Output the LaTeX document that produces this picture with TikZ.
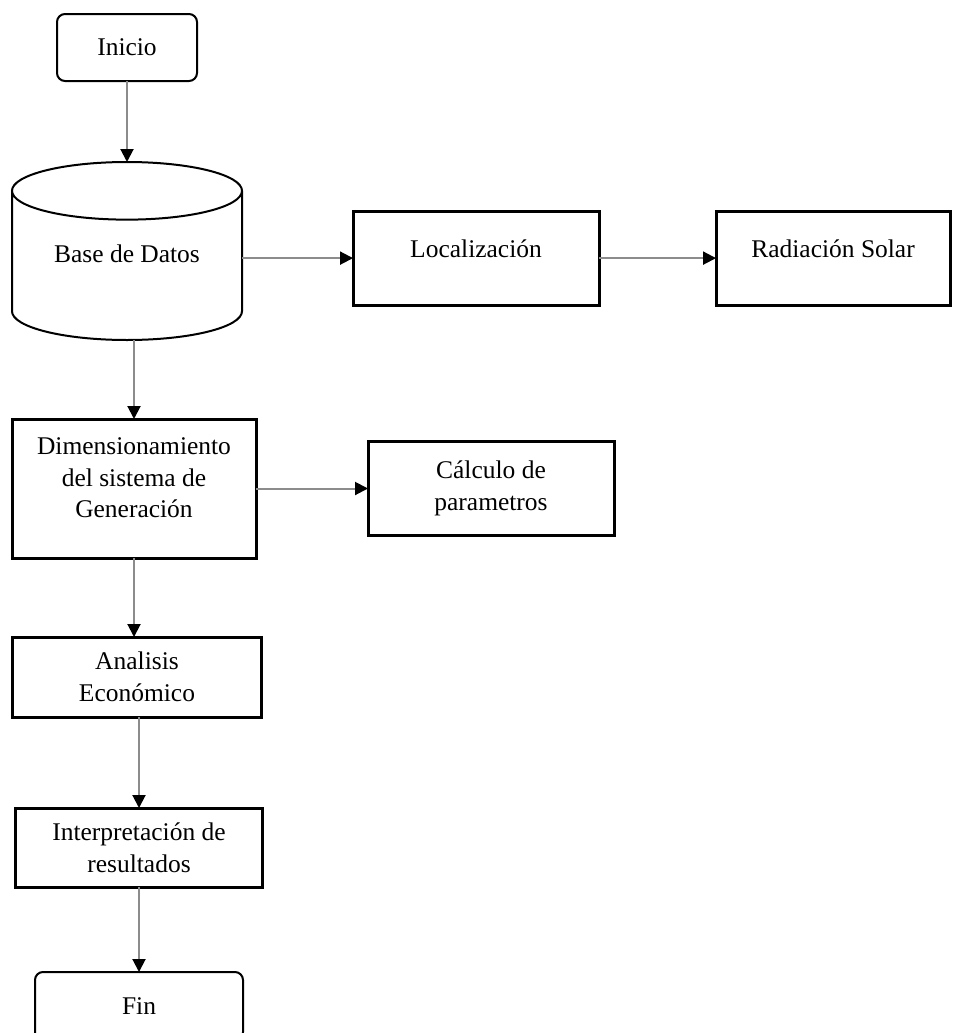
\documentclass[tikz,border=0pt]{standalone}
\usepackage{fontspec}
\setmainfont{Liberation Serif}
\usetikzlibrary{positioning, arrows.meta, shapes.geometric}

\begin{document}
\begin{tikzpicture}[node distance=15.8mm and 22.2mm, every node/.style={align=center, outer sep=0pt, inner sep=1mm, font=\fontsize{14.5}{18}\selectfont}, box/.style={draw, line width=0.6mm, minimum width=49.2mm, minimum height=18.8mm}, term/.style={draw, rounded corners=1.6mm, line width=0.4mm, minimum width=28mm, minimum height=13.4mm}, db/.style={draw, cylinder, shape border rotate=90, aspect=0.37, line width=0.4mm, minimum width=46mm, minimum height=35.6mm}, arrow/.style={draw=black!45, line width=0.4mm, -{Triangle[length=2.6mm, width=2.6mm, color=black]}}]
      \clip (0,0) rectangle (190.6mm,-206.6mm);
      \node[term] (inicio) at (25.4mm,-9.5mm) {Inicio}; \node[db, below=16.2mm
      of inicio, text depth=6.6mm] (base) {Base de Datos}; \node[box,
      right=22.2mm of base, yshift=2.4mm, text depth=3.9mm] (loc)
      {Localización}; \node[box, right=23.4mm of loc, minimum width=46.8mm,
      text depth=3.9mm] (rad) {Radiación Solar};
      \node[box, below=of base, xshift=1.4mm, minimum width=48.8mm, minimum
      height=27.8mm, text depth=4.3mm] (dim) {Dimensionamiento\\del sistema
      de\\Generación}; \node[box, right=22.4mm of dim] (calc) {Cálculo
      de\\parametros};
      \node[box, below=of dim, xshift=0.6mm, minimum width=49.8mm, minimum
      height=16mm] (ana) {Analisis\\Económico}; \node[box, below=18.2mm of
      ana, xshift=0.4mm, minimum width=49.4mm, minimum height=15.8mm] (interp)
      {Interpretación de\\resultados}; \node[term, below=17mm of interp,
      minimum width=41.6mm, minimum height=13.6mm] (fin) {Fin};

      \draw[arrow] (inicio) -- (base); \draw[arrow] (loc.west -| base.east) --
      (loc); \draw[arrow] (loc) -- (rad); \draw[arrow] (dim.north |-
      base.south) -- (dim); \draw[arrow] (dim) -- (calc); \draw[arrow]
      (dim.south) -- (dim.south |- ana.north); \draw[arrow] (ana.south -|
      interp.north) -- (interp); \draw[arrow] (interp) -- (fin);
    \end{tikzpicture}
\end{document}
